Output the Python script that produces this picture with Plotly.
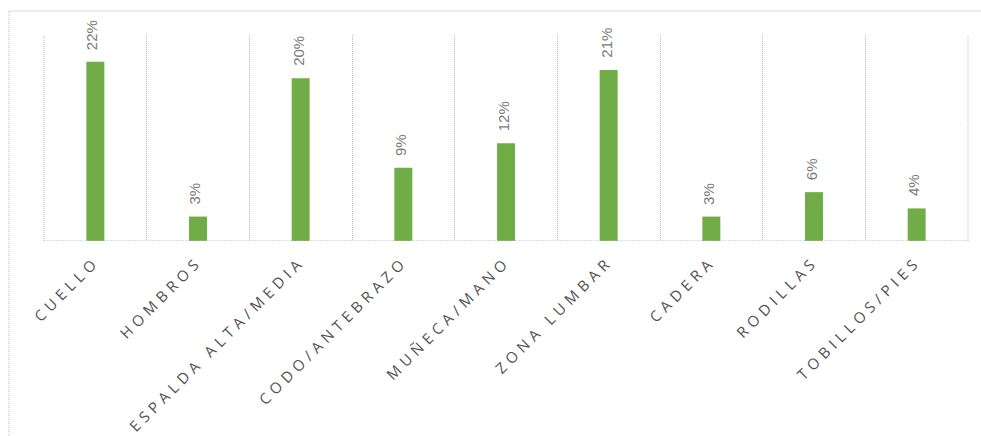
import plotly.graph_objects as go

# Body regions and share of reported discomfort (%)
categories = ["CUELLO", "HOMBROS", "ESPALDA ALTA/MEDIA", "CODO/ANTEBRAZO",
              "MUÑECA/MANO", "ZONA LUMBAR", "CADERA", "RODILLAS", "TOBILLOS/PIES"]
values = [22, 3, 20, 9, 12, 21, 3, 6, 4]
value_labels = ["22%", "3%", "20%", "9%", "12%", "21%", "3%", "6%", "4%"]

GREEN = "#70AD47"
TEXT_GRAY = "#535353"
LABEL_GRAY = "#7A7A7A"
GRID_GRAY = "#BDBDBD"
FONT = "Open Sans"

W, H = 981, 436
ML, MR, MT, MB = 44, 13, 35, 195
pw, ph = W - ML - MR, H - MT - MB

fig = go.Figure(go.Bar(
    x=categories,
    y=values,
    marker=dict(color=GREEN, line=dict(width=0)),
    hoverinfo="skip",
))

# rotated percentage labels above each bar
for cat, val, lab in zip(categories, values, value_labels):
    fig.add_annotation(
        x=cat, y=val, text=lab, textangle=-90,
        showarrow=False, yanchor="bottom", xanchor="center",
        yshift=10, xshift=-3,
        font=dict(family="Liberation Sans", size=15, color=LABEL_GRAY),
    )

# spaced-out category labels
tick_text = ['<span style="letter-spacing:4.8px">' + c + "</span>" for c in categories]

fig.update_xaxes(
    type="category",
    range=[-0.5, len(categories) - 0.5],
    tickmode="array",
    tickvals=categories,
    ticktext=tick_text,
    tickangle=-45,
    tickson="boundaries",
    ticks="",
    ticklabelstandoff=8,
    showgrid=True,
    gridcolor=GRID_GRAY,
    gridwidth=1,
    griddash="1px,1px",
    showline=False,
    zeroline=False,
    tickfont=dict(family=FONT, size=15, color=TEXT_GRAY),
    fixedrange=True,
)
fig.update_yaxes(
    range=[0, 25.3],
    visible=False,
    showgrid=False,
    zeroline=False,
    fixedrange=True,
)

# category axis baseline and outer vertical gridlines of the plot area
fig.add_shape(type="line", xref="paper", yref="y", x0=0, x1=1, y0=0, y1=0,
              line=dict(color=GRID_GRAY, width=1, dash="2px,1px"))
for xe in (0, 1):
    fig.add_shape(type="line", xref="paper", yref="paper", x0=xe, x1=xe, y0=0, y1=1,
                  line=dict(color=GRID_GRAY, width=1, dash="1px,1px"))

# chart frame (top edge and left edge)
fx0 = (9 - ML) / pw
fy_top = (H - MB - 11) / ph
fy_bot = (H - MB - H) / ph
fx1 = (W - ML) / pw
fig.add_shape(type="line", xref="paper", yref="paper", x0=fx0, x1=fx1, y0=fy_top, y1=fy_top,
              line=dict(color="#D9D9D9", width=1))
fig.add_shape(type="line", xref="paper", yref="paper", x0=fx0, x1=fx0, y0=fy_top, y1=fy_bot,
              line=dict(color=GRID_GRAY, width=1, dash="1px,1px"))

fig.update_layout(
    width=W, height=H,
    margin=dict(l=ML, r=MR, t=MT, b=MB, autoexpand=False),
    paper_bgcolor="white",
    plot_bgcolor="white",
    bargap=0.825,
    showlegend=False,
    font=dict(family=FONT, color=TEXT_GRAY),
)

fig.write_html("out.html", config={"displayModeBar": False})
